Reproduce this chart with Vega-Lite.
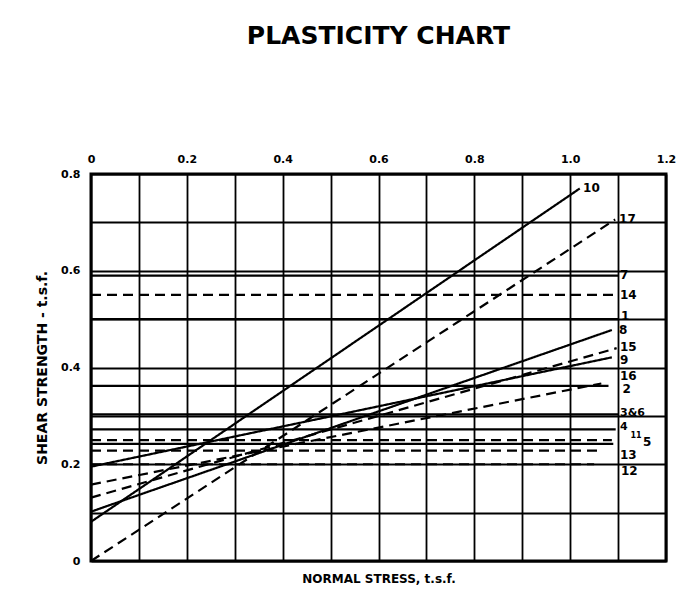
{
  "$schema": "https://vega.github.io/schema/vega-lite/v6.json",
  "width": 575,
  "height": 387,
  "autosize": {"type": "none"},
  "padding": {"left": 91, "top": 174, "right": 26, "bottom": 48},
  "background": "white",
  "title": {"text": "PLASTICITY CHART", "font": "DejaVu Sans", "fontSize": 25, "fontWeight": "bold", "color": "black", "anchor": "middle", "offset": 104},
  "config": {
    "view": {"stroke": "black", "strokeWidth": 3},
    "axis": {"labelFont": "DejaVu Sans", "labelFontWeight": "bold", "labelFontSize": 11, "labelColor": "black", "titleFont": "DejaVu Sans", "titleFontWeight": "bold", "titleFontSize": 12, "titleColor": "black"}
  },
  "datasets": {
    "lines": [
      {"id": "1", "style": "solid", "x": 0, "y": 0.5},
      {"id": "1", "style": "solid", "x": 1.1, "y": 0.5},
      {"id": "2", "style": "solid", "x": 0, "y": 0.362},
      {"id": "2", "style": "solid", "x": 1.08, "y": 0.362},
      {"id": "3&6", "style": "solid", "x": 0, "y": 0.303},
      {"id": "3&6", "style": "solid", "x": 1.1, "y": 0.303},
      {"id": "4", "style": "solid", "x": 0, "y": 0.272},
      {"id": "4", "style": "solid", "x": 1.095, "y": 0.272},
      {"id": "5", "style": "solid", "x": 0, "y": 0.242},
      {"id": "5", "style": "solid", "x": 1.09, "y": 0.242},
      {"id": "7", "style": "solid", "x": 0, "y": 0.59},
      {"id": "7", "style": "solid", "x": 1.1, "y": 0.59},
      {"id": "8", "style": "solid", "x": 0, "y": 0.102},
      {"id": "8", "style": "solid", "x": 1.087, "y": 0.4775},
      {"id": "9", "style": "solid", "x": 0, "y": 0.195},
      {"id": "9", "style": "solid", "x": 1.087, "y": 0.421},
      {"id": "10", "style": "solid", "x": 0, "y": 0.081},
      {"id": "10", "style": "solid", "x": 1.02, "y": 0.77},
      {"id": "11", "style": "dashed", "x": 0, "y": 0.25},
      {"id": "11", "style": "dashed", "x": 1.087, "y": 0.25},
      {"id": "12", "style": "dashed", "x": 0, "y": 0.2},
      {"id": "12", "style": "dashed", "x": 1.05, "y": 0.2},
      {"id": "13", "style": "dashed", "x": 0, "y": 0.228},
      {"id": "13", "style": "dashed", "x": 1.06, "y": 0.228},
      {"id": "14", "style": "dashed", "x": 0, "y": 0.55},
      {"id": "14", "style": "dashed", "x": 1.1, "y": 0.55},
      {"id": "15", "style": "dashed", "x": 0, "y": 0.131},
      {"id": "15", "style": "dashed", "x": 1.097, "y": 0.44},
      {"id": "16", "style": "dashed", "x": 0, "y": 0.158},
      {"id": "16", "style": "dashed", "x": 1.065, "y": 0.367},
      {"id": "17", "style": "dashed", "x": 0, "y": 0},
      {"id": "17", "style": "dashed", "x": 1.094, "y": 0.706}
    ],
    "labels": [
      {"label": "10", "x": 1.027, "y": 0.771, "size": 12},
      {"label": "17", "x": 1.102, "y": 0.707, "size": 12},
      {"label": "7", "x": 1.104, "y": 0.591, "size": 12},
      {"label": "14", "x": 1.104, "y": 0.55, "size": 12},
      {"label": "1", "x": 1.106, "y": 0.506, "size": 12},
      {"label": "8", "x": 1.102, "y": 0.4775, "size": 12},
      {"label": "15", "x": 1.104, "y": 0.442, "size": 12},
      {"label": "9", "x": 1.104, "y": 0.4155, "size": 12},
      {"label": "16", "x": 1.104, "y": 0.382, "size": 12},
      {"label": "2", "x": 1.109, "y": 0.3555, "size": 12},
      {"label": "3&6", "x": 1.104, "y": 0.306, "size": 11},
      {"label": "4", "x": 1.104, "y": 0.278, "size": 11},
      {"label": "11", "x": 1.126, "y": 0.258, "size": 8},
      {"label": "5", "x": 1.152, "y": 0.245, "size": 12},
      {"label": "13", "x": 1.104, "y": 0.219, "size": 12},
      {"label": "12", "x": 1.106, "y": 0.186, "size": 12}
    ]
  },
  "layer": [
    {
      "data": {"name": "lines"},
      "mark": {"type": "line", "color": "black", "strokeWidth": 2.2},
      "encoding": {
        "x": {
          "field": "x", "type": "quantitative",
          "scale": {"domain": [0, 1.2], "nice": false, "zero": false},
          "axis": {
            "orient": "top", "title": null,
            "values": [0, 0.1, 0.2, 0.3, 0.4, 0.5, 0.6, 0.7, 0.8, 0.9, 1.0, 1.1, 1.2],
            "labelExpr": "abs(datum.value*5 - round(datum.value*5)) < 0.001 ? (datum.value == 0 ? '0' : format(datum.value, '.1f')) : ''",
            "ticks": false, "domain": false,
            "grid": true, "gridColor": "black", "gridOpacity": 1, "gridWidth": 1.8,
            "labelPadding": 10, "labelFlush": false
          }
        },
        "y": {
          "field": "y", "type": "quantitative",
          "scale": {"domain": [0, 0.8], "nice": false, "zero": false},
          "axis": {
            "orient": "left", "title": "SHEAR STRENGTH - t.s.f.",
            "titleFontSize": 14,
            "values": [0, 0.1, 0.2, 0.3, 0.4, 0.5, 0.6, 0.7, 0.8],
            "labelExpr": "abs(datum.value*5 - round(datum.value*5)) < 0.001 ? (datum.value == 0 ? '0' : format(datum.value, '.1f')) : ''",
            "ticks": false, "domain": false,
            "grid": true, "gridColor": "black", "gridOpacity": 1, "gridWidth": 1.8,
            "labelPadding": 11, "labelFlush": false, "titlePadding": 11
          }
        },
        "detail": {"field": "id", "type": "nominal"},
        "strokeDash": {
          "field": "style", "type": "nominal",
          "scale": {"domain": ["solid", "dashed"], "range": [[1, 0], [10, 6]]},
          "legend": null
        }
      }
    },
    {
      "data": {"name": "labels"},
      "mark": {"type": "text", "align": "left", "baseline": "middle", "font": "DejaVu Sans", "fontWeight": "bold", "color": "black"},
      "encoding": {
        "x": {
          "field": "x", "type": "quantitative",
          "scale": {"domain": [0, 1.2], "nice": false, "zero": false},
          "axis": {"orient": "bottom", "title": "NORMAL STRESS, t.s.f.", "labels": false, "ticks": false, "domain": false, "grid": false, "titlePadding": 12}
        },
        "y": {
          "field": "y", "type": "quantitative",
          "scale": {"domain": [0, 0.8], "nice": false, "zero": false},
          "axis": null
        },
        "size": {"field": "size", "type": "quantitative", "scale": null},
        "text": {"field": "label"}
      }
    }
  ],
  "resolve": {"axis": {"x": "independent", "y": "independent"}}
}
